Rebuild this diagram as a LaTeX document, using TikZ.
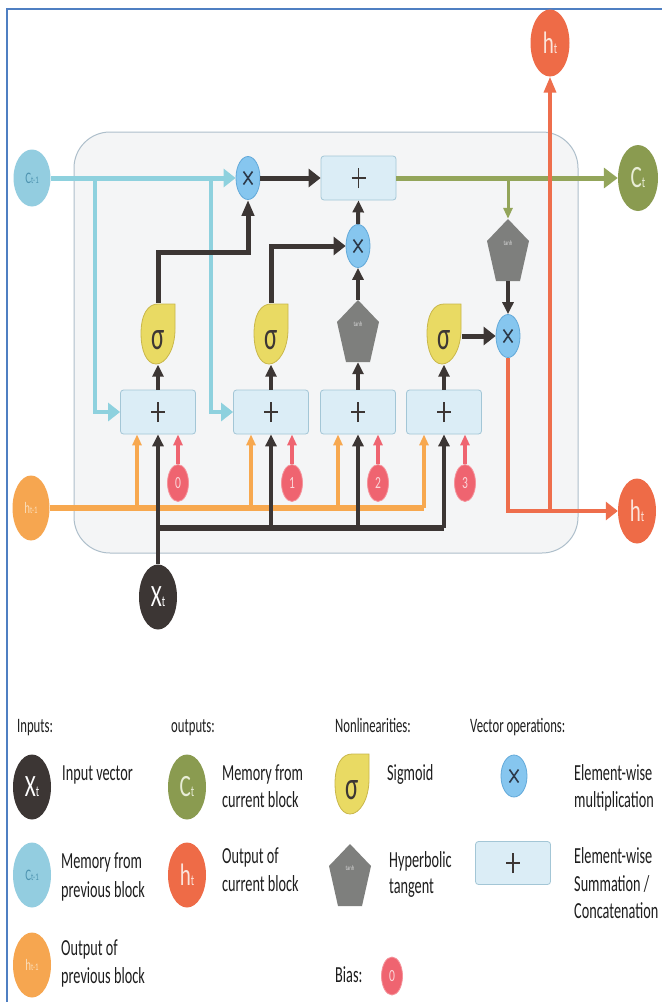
\documentclass[tikz,border=0pt]{standalone}
\usepackage{fontspec}
\setmainfont{Carlito}[FakeStretch=0.68]
\newfontfamily\lgfont{Carlito}[FakeStretch=0.62]
\usetikzlibrary{arrows.meta,shapes.geometric}
\definecolor{frameB}{HTML}{4F7FC2}
\definecolor{contF}{HTML}{F4F5F6}
\definecolor{contB}{HTML}{AEBFCB}
\definecolor{cyanC}{HTML}{8ED1DE}
\definecolor{cinF}{HTML}{93CDE0}
\definecolor{cinT}{HTML}{4D93B0}
\definecolor{htF}{HTML}{EE6B47}
\definecolor{htT}{HTML}{FBE3DA}
\definecolor{redC}{HTML}{EE6E4C}
\definecolor{ctF}{HTML}{8A9B50}
\definecolor{ctT}{HTML}{E8EDD6}
\definecolor{greenC}{HTML}{93A55A}
\definecolor{orC}{HTML}{F7A84F}
\definecolor{hinF}{HTML}{F6A650}
\definecolor{hinT}{HTML}{FBDDB8}
\definecolor{dark}{HTML}{3C3634}
\definecolor{txt}{HTML}{1E1E1E}
\definecolor{sigY}{HTML}{E9DA63}
\definecolor{sigB}{HTML}{C9B74A}
\definecolor{tanhG}{HTML}{7E7F7D}
\definecolor{tanhT}{HTML}{D6D6D6}
\definecolor{biasF}{HTML}{EF6470}
\definecolor{biasB}{HTML}{F5939B}
\definecolor{biasT}{HTML}{FAD6D9}
\definecolor{mulF}{HTML}{86C6EF}
\definecolor{mulB}{HTML}{62A9D9}
\definecolor{mulX}{HTML}{2D3A4A}
\definecolor{boxF}{HTML}{DBEDF6}
\definecolor{boxB}{HTML}{A3C6D6}
\newcommand\clbl[4]{{\fontsize{#3}{#3}\selectfont #1}{\fontsize{#4}{#4}\selectfont #2}}
\tikzset{
  ell/.style={ellipse, inner sep=0pt},
  mul/.style={ellipse, inner sep=0pt, fill=mulF, draw=mulB, line width=0.8,
    minimum width=24, minimum height=43,
    path picture={
      \draw[mulX, line width=1.6pt]
        ([xshift=-4.5pt,yshift=-6.5pt]path picture bounding box.center) --
        ([xshift=4.5pt,yshift=6.5pt]path picture bounding box.center)
        ([xshift=-4.5pt,yshift=6.5pt]path picture bounding box.center) --
        ([xshift=4.5pt,yshift=-6.5pt]path picture bounding box.center);}},
  sumbox/.style={rectangle, rounded corners=3, inner sep=0pt, fill=boxF, draw=boxB,
    line width=0.8, minimum width=75, minimum height=44,
    path picture={
      \draw[dark, line width=1.8pt]
        ([xshift=-7pt]path picture bounding box.center) --
        ([xshift=7pt]path picture bounding box.center)
        ([yshift=-10pt]path picture bounding box.center) --
        ([yshift=10pt]path picture bounding box.center);}},
  sigbb/.style={rectangle, inner sep=0pt, minimum width=35, minimum height=61,
    font=\lgfont\fontsize{40}{40}\selectfont, text=dark, text height=30pt, text depth=0pt},
  tanhbb/.style={rectangle, inner sep=0pt, minimum width=42, minimum height=62,
    font=\fontsize{7}{7}\selectfont, text=tanhT, text height=0pt, text depth=9pt},
  bias/.style={ellipse, inner sep=0pt, fill=biasF, draw=biasB, line width=0.8,
    minimum width=21, minimum height=37, text=biasT, font=\fontsize{17}{17}\selectfont},
  sigpic/.pic={\draw[fill=sigY, draw=sigB, line width=0.8]
    (0,-30) -- (17,-30) -- (17,-5) .. controls (17,15) and (8,30) .. (-2,30)
    .. controls (-12,30) and (-17,15) .. (-17,0)
    .. controls (-17,-20) and (-10,-30) .. (0,-30) -- cycle;},
  tanhpic/.pic={\fill[tanhG] (0,-31) -- (21,-9) -- (12,31) -- (-12,31) -- (-21,-9) -- cycle;},
  tipH/.style={-{Triangle[length=12pt,width=18pt]}},
  tipV/.style={-{Triangle[length=16pt,width=12pt]}},
  tipM/.style={-{Triangle[length=12pt,width=11pt]}},
  tipS/.style={-{Triangle[length=11pt,width=9pt]}},
  blk/.style={draw=dark, line width=5},
  lgt/.style={anchor=base west, inner sep=0pt, text=txt, font=\lgfont\fontsize{23}{28}\selectfont},
  lgh/.style={anchor=base west, inner sep=0pt, text=txt, font=\lgfont\fontsize{20.5}{24}\selectfont},
}
\begin{document}
\begin{tikzpicture}[x=1pt,y=-1pt, font=\fontsize{21}{28}\selectfont]
\useasboundingbox (0,0) rectangle (662,1002);
\fill[white] (0,0) rectangle (662,1002);
\draw[frameB, line width=2.2] (7,1002) -- (7,9) -- (662,9);
\draw[fill=contF, draw=contB, line width=1, rounded corners=36] (74,132) rectangle (578,553);

% ---------- shapes behind nodes
\pic at (158,334) {sigpic};
\pic at (271,334) {sigpic};
\pic at (444,334) {sigpic};
\pic at (358,331) {tanhpic};
\pic at (508,250) {tanhpic};

% ---------- main nodes
\node[ell, fill=cinF, minimum width=37, minimum height=57] (cin) at (32,178) {\textcolor{cinT}{\clbl{C}{t-1}{16}{10}}};
\node[mul] (mtop) at (248,178) {};
\node[sumbox] (ptop) at (358.5,178) {};
\node[ell, fill=ctF, minimum width=40, minimum height=66] (ct) at (638,178) {\textcolor{ctT}{\clbl{C}{t}{31}{15}}};
\node[ell, fill=htF, minimum width=39, minimum height=67] (htop) at (550,43) {\textcolor{htT}{\clbl{h}{t}{31}{15}}};
\node[mul] (mmid) at (358,246) {};
\node[tanhbb] (tanhR) at (508,250) {tanh};
\node[mul] (mR) at (508,336) {};
\node[sigbb] (s1) at (158,334) {σ};
\node[sigbb] (s2) at (271,334) {σ};
\node[sigbb] (s3) at (444,334) {σ};
\node[tanhbb] (tanhM) at (358,331) {tanh};
\node[sumbox] (bx1) at (158,412) {};
\node[sumbox] (bx2) at (271,412) {};
\node[sumbox] (bx3) at (358,412) {};
\node[sumbox] (bx4) at (444,412) {};
\node[bias] (bi0) at (178,483) {0};
\node[bias] (bi1) at (292,483) {1};
\node[bias] (bi2) at (378,483) {2};
\node[bias] (bi3) at (465,483) {3};
\node[ell, fill=hinF, minimum width=37, minimum height=65] (hin) at (31,508) {\textcolor{hinT}{\clbl{h}{t-1}{16}{10}}};
\node[ell, fill=htF, minimum width=38, minimum height=65] (htR) at (637,511) {\textcolor{htT}{\clbl{h}{t}{31}{15}}};
\node[ell, fill=dark, minimum width=38, minimum height=65] (xt) at (158,597) {\textcolor{white}{\clbl{X}{t}{31}{15}}};

% ---------- cell state path
\coordinate (cb1) at (95,178);
\coordinate (cb2) at (211,178);
\draw[cyanC, line width=5, tipH] (cin) -- (mtop);
\draw[cyanC, line width=4, tipH] (cb1) |- (bx1.west);
\draw[cyanC, line width=4, tipH] (cb2) |- (bx2.west);
\draw[blk, tipH] (mtop) -- (ptop);
\draw[greenC, line width=5, -{Triangle[length=14pt,width=20pt]}] (ptop) -- (ct);
\coordinate (gb) at (508,178);
\draw[greenC, line width=3, tipS] (gb) -- (tanhR.north);
\draw[blk, line width=4, tipM] (tanhR.south) -- (mR.north);
\draw[blk, line width=4, tipM] (tanhM.north) -- (mmid.south);
\draw[blk, line width=4, tipM] (mmid.north) -- (ptop.south);
\draw[blk, tipH] (s2.north) |- (mmid.west);
\coordinate (k1) at (158,252);
\draw[blk, tipV] (s1.north) -- (k1) -| (mtop.south);
\draw[blk, tipH] (s3.east |- mR.west) -- (mR.west);

% ---------- output path
\coordinate (rb) at (550,511);
\draw[redC, line width=4.5, tipH] (mR.south) |- (htR.west);
\draw[redC, line width=3.5, -{Triangle[length=16pt,width=12pt]}] (rb) -- (htop.south);

% ---------- gate inputs
\draw[blk, line width=4, tipM] (bx1.north) -- (s1.south);
\draw[blk, line width=4, tipM] (bx2.north) -- (s2.south);
\draw[blk, line width=4, tipM] (bx3.north) -- (tanhM.south);
\draw[blk, line width=4, tipM] (bx4.north) -- (s3.south);

\coordinate (o1) at (137,508);
\coordinate (o2) at (251,508);
\coordinate (o3) at (338,508);
\coordinate (o4) at (424,508);
\draw[orC, line width=6] (hin) -- (o4);
\draw[orC, line width=3.5, tipS] (o1) -- (o1 |- bx1.south);
\draw[orC, line width=3.5, tipS] (o2) -- (o2 |- bx2.south);
\draw[orC, line width=3.5, tipS] (o3) -- (o3 |- bx3.south);
\draw[orC, line width=3.5, tipS] (o4) -- (o4 |- bx4.south);

\coordinate (kb) at (158,528);
\coordinate (k2) at (271,528);
\coordinate (k3) at (358,528);
\coordinate (k4) at (444,528);
\draw[dark, line width=6] (kb) -- (k4);
\draw[blk, line width=4.5, tipM] (xt.north) -- (bx1.south);
\draw[blk, line width=4.5, tipM] (k2) -- (bx2.south);
\draw[blk, line width=4.5, tipM] (k3) -- (bx3.south);
\draw[blk, line width=4.5, tipM] (k4) -- (bx4.south);

\draw[biasF, line width=3.5, tipS] (bi0.north) -- (bi0.north |- bx1.south);
\draw[biasF, line width=3.5, tipS] (bi1.north) -- (bi1.north |- bx2.south);
\draw[biasF, line width=3.5, tipS] (bi2.north) -- (bi2.north |- bx3.south);
\draw[biasF, line width=3.5, tipS] (bi3.north) -- (bi3.north |- bx4.south);

% ---------- legend
\node[lgh] (hIn) at (17,732) {Inputs:};
\node[lgh] (hOut) at (171,732) {outputs:};
\node[lgh] (hNl) at (335,732) {Nonlinearities:};
\node[lgh] (hVo) at (470,732) {Vector operations:};

\node[ell, fill=dark, minimum width=38, minimum height=65] (lxt) at (32,787) {\textcolor{white}{\clbl{X}{t}{31}{15}}};
\node[lgt] (tIv) at (62,780) {Input vector};
\node[ell, fill=ctF, minimum width=38, minimum height=65] (lct) at (187,787) {\textcolor{ctT}{\clbl{C}{t}{31}{15}}};
\node[lgt] (tMf1) at (222,780) {Memory from};
\node[lgt] (tMf2) at (222,807) {current block};
\pic at (352,784) {sigpic};
\node[sigbb] (lsig) at (352,784) {σ};
\node[lgt] (tSig) at (387,780) {Sigmoid};
\node[mul, minimum width=26, minimum height=42] (lmul) at (514,776) {};
\node[lgt] (tEw1) at (574,780) {Element-wise};
\node[lgt] (tEw2) at (574,807) {multiplication};

\node[ell, fill=cinF, minimum width=38, minimum height=65] (lcin) at (32,875) {\textcolor{cinT}{\clbl{C}{t-1}{16}{10}}};
\node[lgt] (tMp1) at (61,868) {Memory from};
\node[lgt] (tMp2) at (61,897) {previous block};
\node[ell, fill=htF, minimum width=38, minimum height=65] (lht) at (187,875) {\textcolor{htT}{\clbl{h}{t}{31}{15}}};
\node[lgt] (tOc1) at (222,863) {Output of};
\node[lgt] (tOc2) at (222,891) {current block};
\pic at (350,875) {tanhpic};
\node[tanhbb] (ltanh) at (350,875) {tanh};
\node[lgt] (tHt1) at (389,867) {Hyperbolic};
\node[lgt] (tHt2) at (389,893) {tangent};
\node[sumbox, minimum height=43] (lsum) at (513,863) {};
\node[lgt] (tEs1) at (574,863) {Element-wise};
\node[lgt] (tEs2) at (574,891) {Summation /};
\node[lgt] (tEs3) at (574,918) {Concatenation};

\node[ell, fill=hinF, minimum width=38, minimum height=65] (lhin) at (32,965) {\textcolor{hinT}{\clbl{h}{t-1}{16}{10}}};
\node[lgt] (tOp1) at (61,955) {Output of};
\node[lgt] (tOp2) at (61,983) {previous block};
\node[lgt] (tBias) at (335,982) {Bias:};
\node[bias, minimum height=38] (lbias) at (392,976) {0};
\end{tikzpicture}
\end{document}
